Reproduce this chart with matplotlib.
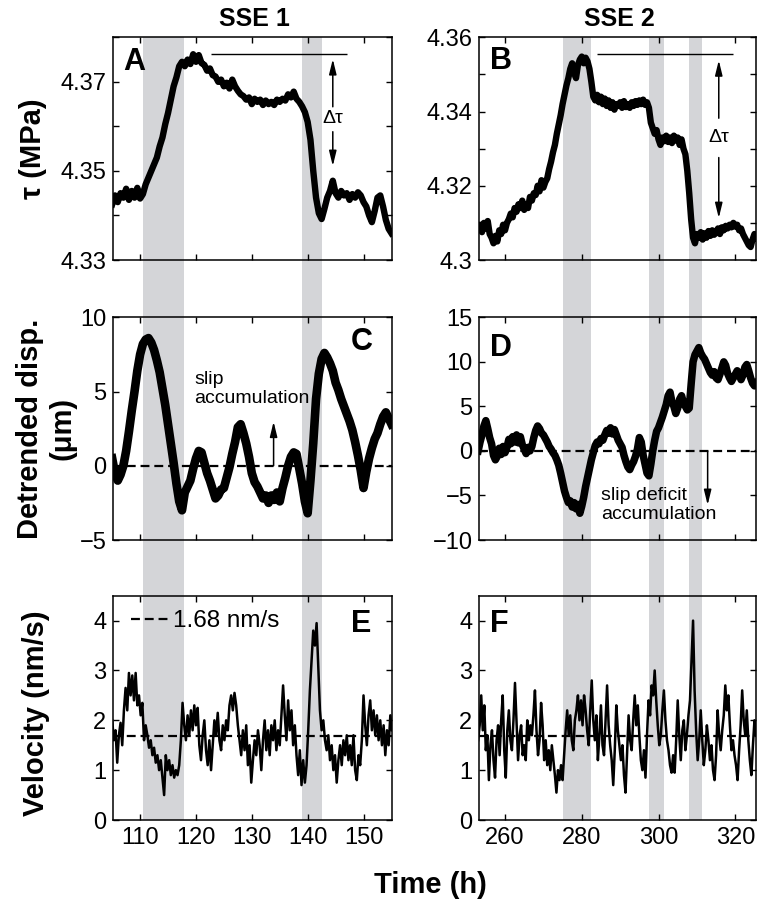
import numpy as np
import matplotlib.pyplot as plt

plt.rcParams['font.family'] = ['Liberation Sans', 'DejaVu Sans']

# ---- SSE 1 : shear stress (MPa) and detrended displacement (um), every 0.5 h from 105 h
sse1_t0, sse1_dt = 105.0, 0.5
sse1_tau = [
    4.3425, 4.3445, 4.3430, 4.3450, 4.3440, 4.3460, 4.3435, 4.3455, 4.3440, 4.3462,
    4.3438, 4.3448, 4.3470, 4.3485, 4.3500, 4.3515, 4.3530, 4.3555, 4.3575, 4.3605,
    4.3630, 4.3660, 4.3690, 4.3710, 4.3735, 4.3745, 4.3735, 4.3750, 4.3740, 4.3762,
    4.3745, 4.3760, 4.3742, 4.3738, 4.3725, 4.3730, 4.3715, 4.3712, 4.3700, 4.3705,
    4.3690, 4.3698, 4.3685, 4.3705, 4.3690, 4.3680, 4.3672, 4.3668, 4.3660, 4.3665,
    4.3650, 4.3662, 4.3655, 4.3660, 4.3648, 4.3658, 4.3650, 4.3655, 4.3648, 4.3660,
    4.3655, 4.3662, 4.3658, 4.3672, 4.3665, 4.3678, 4.3662, 4.3655, 4.3645, 4.3632,
    4.3610, 4.3570, 4.3500, 4.3440, 4.3405, 4.3392, 4.3415, 4.3440, 4.3455, 4.3478,
    4.3450, 4.3440, 4.3455, 4.3445, 4.3450, 4.3435, 4.3448, 4.3440, 4.3452, 4.3445,
    4.3430, 4.3420, 4.3400, 4.3385, 4.3410, 4.3440, 4.3445, 4.3420, 4.3390, 4.3370,
    4.3360]
sse1_disp = [
    0.5, -0.5, -1.0, -0.6, 0.0, 1.0, 2.3, 3.7, 5.0, 6.4,
    7.5, 8.2, 8.5, 8.6, 8.3, 7.8, 7.1, 6.3, 5.2, 4.1,
    2.8, 1.5, 0.2, -1.2, -2.4, -3.0, -1.8, -1.4, -1.0, -0.2,
    0.5, 1.0, 0.9, 0.2, -0.5, -1.0, -1.6, -2.2, -2.0, -1.6,
    -1.5, -0.8, -0.1, 0.8, 1.6, 2.6, 2.8, 2.2, 1.5, 0.6,
    -0.5, -1.1, -1.4, -1.8, -2.2, -2.0, -2.5, -2.0, -2.3, -1.8,
    -2.4, -1.5, -0.8, 0.0, 0.6, 0.9, 0.8, -0.2, -1.2, -2.4,
    -3.2, -1.0, 1.5, 4.5, 6.2, 7.2, 7.6, 7.3, 6.9, 6.4,
    5.6, 5.1, 4.5, 4.0, 3.5, 3.0, 2.4, 1.6, 0.7, -0.3,
    -1.5, -0.4, 0.5, 1.2, 1.8, 2.2, 2.8, 3.3, 3.6, 3.2,
    2.8]
# velocity (nm/s), every 0.3 h from 105 h
sse1_vel_t0, sse1_vel_dt = 105.0, 0.3
sse1_vel = [
    2.0, 1.6, 1.8, 1.15, 1.7, 1.95, 1.5, 2.2, 2.65, 2.2,
    2.95, 2.5, 2.9, 2.4, 2.95, 2.3, 2.5, 2.1, 2.35, 1.6,
    1.9, 1.7, 1.45, 1.6, 1.3, 1.45, 1.15, 1.3, 1.0, 1.2,
    0.85, 0.5, 1.3, 1.0, 1.2, 0.9, 1.1, 0.85, 1.0, 0.9,
    1.1, 1.6, 2.35, 1.9, 1.6, 2.1, 1.7, 2.2, 1.8, 2.3,
    1.9, 2.25, 1.5, 1.2, 1.7, 2.0, 1.4, 1.1, 1.6, 1.0,
    1.5, 2.0, 1.7, 2.15, 1.6, 1.4, 1.9, 1.6, 2.0, 1.8,
    2.3, 2.5, 2.2, 2.55, 2.3, 1.9, 1.6, 1.3, 1.8, 1.4,
    1.9, 1.1, 1.5, 0.75, 1.2, 1.6, 1.3, 1.8, 1.5, 1.0,
    1.6, 2.0, 1.4, 1.8, 1.3, 1.9, 1.6, 2.0, 1.4, 1.8,
    1.5, 2.1, 2.7, 2.1, 1.6, 2.4, 1.8, 2.2, 1.5, 1.9,
    1.3, 0.9, 1.4, 0.7, 1.2, 0.75, 1.1, 1.8, 2.6, 3.2,
    3.8, 3.5, 3.95, 3.1, 2.2, 1.8, 2.0, 1.6, 1.4, 1.7,
    1.2, 1.5, 1.0, 1.3, 0.75, 1.2, 1.5, 1.1, 1.6, 1.3,
    1.7, 1.2, 1.5, 1.1, 1.7, 1.0, 0.8, 1.3, 1.1, 1.6,
    2.5, 1.9, 1.5, 2.1, 2.4, 1.8, 2.2, 1.7, 2.1, 1.6,
    2.0, 1.5, 1.9, 1.3, 1.8, 1.5, 2.1, 1.8]
sse1_shade = [(110.6, 117.8), (138.9, 142.6)]

# ---- SSE 2, every 0.5 h from 253 h
sse2_t0, sse2_dt = 253.0, 0.5
sse2_tau = [
    4.3085, 4.3095, 4.3075, 4.3100, 4.3085, 4.3105, 4.3070, 4.3060, 4.3045, 4.3065,
    4.3050, 4.3080, 4.3070, 4.3095, 4.3080, 4.3100, 4.3110, 4.3125, 4.3115, 4.3140,
    4.3130, 4.3150, 4.3140, 4.3160, 4.3135, 4.3150, 4.3140, 4.3170, 4.3160, 4.3180,
    4.3175, 4.3200, 4.3185, 4.3215, 4.3195, 4.3210, 4.3220, 4.3245, 4.3265, 4.3290,
    4.3310, 4.3340, 4.3365, 4.3390, 4.3420, 4.3445, 4.3470, 4.3490, 4.3515, 4.3530,
    4.3505, 4.3490, 4.3525, 4.3540, 4.3548, 4.3530, 4.3545, 4.3535, 4.3515, 4.3480,
    4.3440, 4.3430, 4.3445, 4.3425, 4.3440, 4.3420, 4.3435, 4.3415, 4.3430, 4.3410,
    4.3425, 4.3405, 4.3420, 4.3415, 4.3425, 4.3410, 4.3428, 4.3412, 4.3420, 4.3410,
    4.3425, 4.3415, 4.3428, 4.3418, 4.3430, 4.3420, 4.3432, 4.3418, 4.3425, 4.3410,
    4.3370, 4.3355, 4.3340, 4.3350, 4.3325, 4.3310, 4.3330, 4.3320, 4.3335, 4.3318,
    4.3330, 4.3315, 4.3335, 4.3322, 4.3330, 4.3310, 4.3325, 4.3300, 4.3285, 4.3240,
    4.3180, 4.3110, 4.3060, 4.3045, 4.3070, 4.3060, 4.3075, 4.3055, 4.3072, 4.3060,
    4.3078, 4.3065, 4.3080, 4.3068, 4.3075, 4.3085, 4.3070, 4.3088, 4.3080, 4.3092,
    4.3085, 4.3095, 4.3088, 4.3100, 4.3090, 4.3095, 4.3080, 4.3085, 4.3070, 4.3060,
    4.3050, 4.3040, 4.3035, 4.3055, 4.3070, 4.3060]
sse2_disp = [
    0.0, 1.0, 1.8, 2.8, 3.4, 2.5, 1.5, 0.8, -0.5, -1.0,
    -0.6, 0.3, -0.4, 0.5, -0.2, 0.4, 1.3, 0.8, 1.6, 1.0,
    1.8, 0.9, 1.6, 0.7, 0.2, -0.3, 0.4, 0.0, 0.5, 1.5,
    2.3, 2.8, 2.5, 2.0, 1.8, 1.4, 1.0, 0.5, 0.2, -0.2,
    -0.5, -1.0, -1.6, -2.5, -3.5, -4.5, -5.2, -5.8, -5.6, -6.3,
    -5.8, -6.5, -6.0, -7.0, -6.2, -5.2, -4.0, -3.0, -2.0, -1.0,
    -0.2, 0.6, 1.0, 0.8, 1.4, 1.2, 1.8, 2.3, 2.0, 2.6,
    1.9, 2.4, 1.8, 1.2, 0.8, 0.4, -0.5, -1.2, -1.8, -2.1,
    -1.6, -1.2, -0.6, 0.2, 1.5, 1.0, -0.5, -1.5, -2.5, -2.8,
    -1.5, 0.0, 1.2, 2.2, 2.6, 3.2, 3.8, 4.5, 5.2, 6.2,
    6.6, 5.5, 5.0, 4.2, 4.8, 5.8, 6.2, 5.4, 5.0, 4.6,
    4.8, 7.5, 10.0, 10.8, 11.2, 11.6, 11.0, 10.6, 10.3, 9.8,
    9.3, 8.8, 8.5, 8.9, 8.2, 8.0, 8.6, 9.3, 10.0, 9.6,
    8.7, 8.2, 7.8, 8.2, 8.6, 9.0, 8.6, 8.0, 8.5, 9.4,
    9.7, 9.0, 8.2, 7.6, 7.3, 7.6]
# velocity (nm/s), every 0.4 h from 253 h
sse2_vel_t0, sse2_vel_dt = 253.0, 0.4
sse2_vel = [
    1.6, 1.9, 2.5, 1.8, 2.3, 1.4, 1.7, 0.8, 1.5, 1.8,
    1.2, 0.85, 1.6, 1.9, 1.3, 2.0, 2.5, 1.4, 0.85, 1.8,
    2.2, 1.6, 1.4, 2.0, 2.75, 2.0, 1.2, 1.7, 1.9, 1.3,
    1.5, 1.2, 2.0, 1.6, 1.9, 1.7, 2.1, 2.6, 1.8, 1.3,
    1.6, 2.35, 1.9, 1.2, 1.6, 1.1, 1.4, 1.0, 1.5, 1.2,
    0.9, 0.55, 1.0, 0.8, 1.1, 0.8, 1.3, 1.8, 2.2, 1.7,
    2.1, 1.6, 1.4, 2.0, 2.2, 2.5, 2.0, 2.4, 1.9, 2.5,
    2.2, 1.8, 1.5, 2.2, 2.8, 2.0, 1.6, 2.1, 1.2, 1.7,
    2.3, 1.5, 1.3, 2.0, 2.7, 1.9, 1.5, 1.2, 0.7, 1.4,
    2.3, 1.8, 1.5, 1.2, 1.5, 0.9, 0.55, 1.3, 2.1, 1.6,
    1.4, 2.0, 2.5, 1.9, 2.3, 1.7, 1.2, 1.0, 1.4, 0.85,
    1.7, 2.4, 2.1, 2.7, 2.5, 3.0, 2.4, 1.9, 1.5, 1.7,
    2.2, 2.6, 2.0, 1.6, 1.4, 1.1, 0.95, 1.3, 0.95, 1.6,
    2.4, 1.7, 1.2, 1.8, 2.0, 1.4, 1.7, 2.1, 2.4, 3.2,
    4.0, 2.6, 1.8, 1.2, 1.6, 2.2, 1.6, 1.1, 1.4, 1.9,
    1.6, 1.2, 1.5, 1.0, 0.8, 1.3, 2.2, 1.7, 1.4, 1.8,
    2.1, 2.7, 2.2, 2.5, 1.9, 1.4, 1.6, 1.3, 1.1, 0.8,
    1.4, 1.9, 2.6, 2.0, 1.7, 2.2, 1.6, 1.2, 0.9, 1.5,
    2.0, 1.7]
sse2_shade = [(275.1, 282.5), (297.4, 301.4), (307.9, 311.2)]

mean_vel = 1.68
gray = '#d4d5d8'
fs_tick = 17

fig = plt.figure(figsize=(7.57, 9.05), dpi=100)

W, H = 757.0, 905.0
cols = [(113.3, 392.0), (479.3, 756.0)]
rows = [(37.3, 260.0), (317.3, 540.0), (595.7, 820.0)]


def box(c, r):
    x0, x1 = cols[c]
    y0, y1 = rows[r]
    return [x0 / W, 1 - y1 / H, (x1 - x0) / W, (y1 - y0) / H]


xlims = [(105.2, 155.1), (253.3, 325.4)]
shades = [sse1_shade, sse2_shade]

# grey bands running through all three rows
for c in range(2):
    x0, x1 = cols[c]
    bg = fig.add_axes([x0 / W, 1 - rows[2][1] / H, (x1 - x0) / W,
                       (rows[2][1] - rows[0][0]) / H], zorder=0)
    for a, b in shades[c]:
        bg.axvspan(a, b, color=gray, lw=0)
    bg.set_xlim(xlims[c])
    bg.axis('off')

axs = [[fig.add_axes(box(c, r), zorder=1) for c in range(2)] for r in range(3)]
for r in range(3):
    for c in range(2):
        ax = axs[r][c]
        ax.set_facecolor('none')
        ax.set_xlim(xlims[c])
        ax.tick_params(direction='in', top=True, right=True, length=4,
                       width=1, labelsize=fs_tick, pad=5)
        for s in ax.spines.values():
            s.set_linewidth(1.1)
        if c == 0:
            ax.set_xticks([110, 120, 130, 140, 150])
        else:
            ax.set_xticks([260, 280, 300, 320])
        if r < 2:
            ax.set_xticklabels([])

t1 = sse1_t0 + sse1_dt * np.arange(len(sse1_tau))
t2 = sse2_t0 + sse2_dt * np.arange(len(sse2_tau))
tv1 = sse1_vel_t0 + sse1_vel_dt * np.arange(len(sse1_vel))
tv2 = sse2_vel_t0 + sse2_vel_dt * np.arange(len(sse2_vel))

# --- A
ax = axs[0][0]
ax.plot(t1, sse1_tau, color='k', lw=4.6)
ax.set_ylim(4.33, 4.38)
ax.set_yticks([4.33, 4.34, 4.35, 4.36, 4.37, 4.38])
ax.set_yticklabels(['4.33', '', '4.35', '', '4.37', ''])
ax.hlines(4.3762, 122.7, 147.1, color='k', lw=1)
arr = dict(arrowstyle='-|>,head_width=0.22,head_length=0.9', color='k', lw=1.1,
           shrinkA=0, shrinkB=0)
ax.annotate('', xy=(144.5, 4.3751), xytext=(144.5, 4.3644), arrowprops=arr)
ax.annotate('', xy=(144.5, 4.3511), xytext=(144.5, 4.3588), arrowprops=arr)
ax.text(144.5, 4.3618, 'Δτ', ha='center', va='center', fontsize=14)

# --- B
ax = axs[0][1]
ax.plot(t2, sse2_tau, color='k', lw=4.6)
ax.set_ylim(4.30, 4.36)
ax.set_yticks([4.30, 4.31, 4.32, 4.33, 4.34, 4.35, 4.36])
ax.set_yticklabels(['4.3', '', '4.32', '', '4.34', '', '4.36'])
ax.hlines(4.3554, 284.0, 319.3, color='k', lw=1)
ax.annotate('', xy=(315.7, 4.3538), xytext=(315.7, 4.3382), arrowprops=arr)
ax.annotate('', xy=(315.7, 4.3113), xytext=(315.7, 4.3276), arrowprops=arr)
ax.text(315.7, 4.3330, 'Δτ', ha='center', va='center', fontsize=14)

# --- C
ax = axs[1][0]
ax.axhline(0, color='k', lw=1.6, ls=(0, (4, 2.2)))
ax.plot(t1, sse1_disp, color='k', lw=6.2)
ax.set_ylim(-5, 10)
ax.set_yticks([-5, 0, 5, 10])
ax.set_yticklabels(['\u22125', '0', '5', '10'])
ax.annotate('', xy=(133.9, 2.97), xytext=(133.9, 0), arrowprops=arr)
ax.text(119.7, 6.4, 'slip\naccumulation', ha='left', va='top', fontsize=14)

# --- D
ax = axs[1][1]
ax.axhline(0, color='k', lw=1.6, ls=(0, (4, 2.2)))
ax.plot(t2, sse2_disp, color='k', lw=5.4)
ax.set_ylim(-10, 15)
ax.set_yticks([-10, -5, 0, 5, 10, 15])
ax.set_yticklabels(['\u221210', '\u22125', '0', '5', '10', '15'])
ax.annotate('', xy=(312.8, -6.07), xytext=(312.8, 0), arrowprops=arr)
ax.text(285.0, -4.0, 'slip deficit\naccumulation', ha='left', va='top', fontsize=14)

# --- E
ax = axs[2][0]
ln = ax.axhline(mean_vel, color='k', lw=1.6, ls=(0, (4, 2.2)), label='1.68 nm/s')
ax.plot(tv1, sse1_vel, color='k', lw=1.8)
ax.set_ylim(0, 4.5)
ax.set_yticks([0, 1, 2, 3, 4])
ax.legend(handles=[ln], loc='center left', bbox_to_anchor=(0.062, 0.887),
          frameon=False, fontsize=17.5, handlelength=1.7, handletextpad=0.05,
          borderpad=0, borderaxespad=0)

# --- F
ax = axs[2][1]
ax.axhline(mean_vel, color='k', lw=1.6, ls=(0, (4, 2.2)))
ax.plot(tv2, sse2_vel, color='k', lw=1.8)
ax.set_ylim(0, 4.5)
ax.set_yticks([0, 1, 2, 3, 4])

# panel letters
letters = [('A', 0, 0, 0.034, 0.955, 'left'), ('B', 0, 1, 0.038, 0.96, 'left'),
           ('C', 1, 0, 0.93, 0.955, 'right'), ('D', 1, 1, 0.038, 0.93, 'left'),
           ('E', 2, 0, 0.925, 0.94, 'right'), ('F', 2, 1, 0.038, 0.94, 'left')]
for s, r, c, x, y, ha in letters:
    axs[r][c].text(x, y, s, transform=axs[r][c].transAxes, ha=ha, va='top',
                   fontsize=22, fontweight='bold')

# column titles and axis labels
fig.text(254 / W, 1 - 25.5 / H, 'SSE 1', ha='center', va='baseline',
         fontsize=18, fontweight='bold')
fig.text(619.5 / W, 1 - 25.5 / H, 'SSE 2', ha='center', va='baseline',
         fontsize=18, fontweight='bold')
fig.text(33 / W, 1 - 148.6 / H, 'τ (MPa)', rotation=90, ha='center', va='center',
         fontsize=21, fontweight='bold')
fig.text(46 / W, 1 - 428.6 / H, 'Detrended disp.\n(μm)', rotation=90, ha='center',
         va='center', fontsize=21, fontweight='bold', multialignment='center')
fig.text(36 / W, 1 - 713 / H, 'Velocity (nm/s)', rotation=90, ha='center',
         va='center', fontsize=21, fontweight='bold')
fig.text(430 / W, 1 - 885 / H, 'Time (h)', ha='center', va='center',
         fontsize=21, fontweight='bold')

fig.savefig('out.png', dpi=100)
